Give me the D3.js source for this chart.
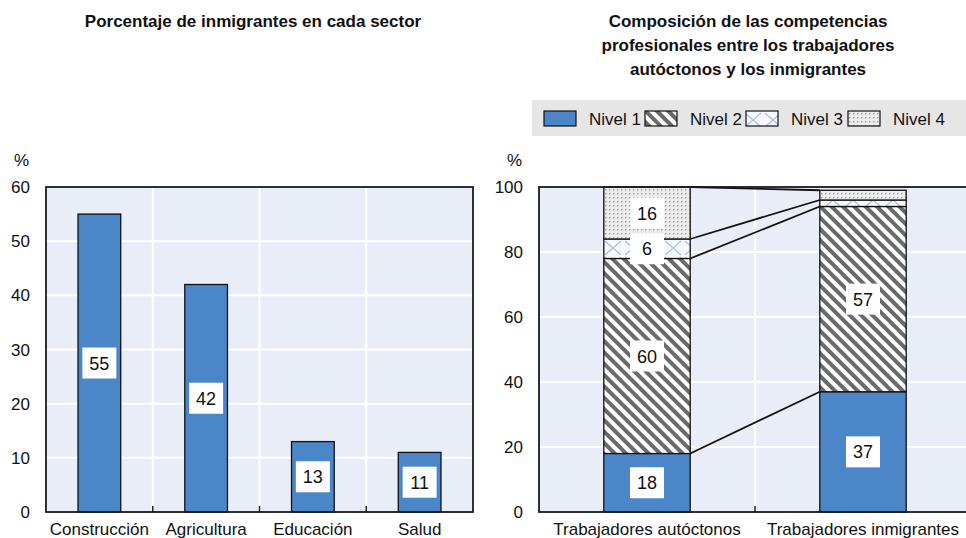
<!DOCTYPE html>
<html>
<head>
<meta charset="utf-8">
<script src="https://cdn.jsdelivr.net/npm/d3@7"></script>
<style>
  body { margin: 0; background: #fff; }
  svg text { font-family: "Liberation Sans Narrow", "Arial Narrow", "Liberation Sans", sans-serif; fill: #111; }
</style>
</head>
<body>
<div id="chart"></div>
<script>
// Left panel data
const sectors = ['Construcción', 'Agricultura', 'Educación', 'Salud'];
const sectorShares = [55, 42, 13, 11];
const leftTicks = [0, 10, 20, 30, 40, 50, 60];

// Right panel data
const groups = ['Trabajadores autóctonos', 'Trabajadores inmigrantes'];
const levels = ['Nivel 1', 'Nivel 2', 'Nivel 3', 'Nivel 4'];
const nativeLevels = [18, 60, 6, 16];
const immigrantLevels = [37, 57, 2, 3];
const rightTicks = [0, 20, 40, 60, 80, 100];

const width = 966;
const height = 538;
const plotTop = 187;
const plotBottom = 512;
const bg = '#e9edf7';
const blue = '#4a86c8';

const svg = d3.select('#chart')
  .append('svg')
  .attr('width', width)
  .attr('height', height);

// Patterns for the skill levels
const defs = svg.append('defs');

const stripes = defs.append('pattern')
  .attr('id', 'p-stripes')
  .attr('patternUnits', 'userSpaceOnUse')
  .attr('width', 8)
  .attr('height', 8)
  .attr('patternTransform', 'rotate(-45)');
stripes.append('rect').attr('width', 8).attr('height', 8).attr('fill', '#fff');
stripes.append('rect').attr('x', 0).attr('width', 4).attr('height', 8).attr('fill', '#6a6a6a');

const cross = defs.append('pattern')
  .attr('id', 'p-cross')
  .attr('patternUnits', 'userSpaceOnUse')
  .attr('width', 20)
  .attr('height', 16)
  .attr('x', 3);
cross.append('rect').attr('width', 20).attr('height', 16).attr('fill', '#f7f9fd');
cross.append('path')
  .attr('d', 'M2 1 L18 15 M18 1 L2 15')
  .attr('stroke', '#a9c1e6')
  .attr('stroke-width', 1.3);

const dots = defs.append('pattern')
  .attr('id', 'p-dots')
  .attr('patternUnits', 'userSpaceOnUse')
  .attr('width', 4)
  .attr('height', 4);
dots.append('rect').attr('width', 4).attr('height', 4).attr('fill', '#ececec');
dots.append('rect').attr('x', 1).attr('y', 1).attr('width', 1.4).attr('height', 1.4).attr('fill', '#9a9a9a');

const levelFill = d3.scaleOrdinal()
  .domain(levels)
  .range([blue, 'url(#p-stripes)', 'url(#p-cross)', 'url(#p-dots)']);

// Draws the frame, gridlines, ticks and axes of one panel
function panel(x, y, ticks, xLabelY) {
  const g = svg.append('g');
  const [x0, x1] = x.range();
  g.append('rect')
    .attr('x', x0).attr('y', plotTop)
    .attr('width', x1 - x0).attr('height', plotBottom - plotTop)
    .attr('fill', bg);
  g.selectAll('.hgrid')
    .data(ticks.slice(1, -1))
    .enter().append('line')
    .attr('x1', x0).attr('x2', x1)
    .attr('y1', d => y(d)).attr('y2', d => y(d))
    .attr('stroke', '#fff').attr('stroke-width', 2);
  const bounds = x.domain().slice(1).map(d => x(d));
  g.selectAll('.vgrid')
    .data(bounds)
    .enter().append('line')
    .attr('x1', d => d).attr('x2', d => d)
    .attr('y1', plotTop).attr('y2', plotBottom)
    .attr('stroke', '#fff').attr('stroke-width', 2);
  g.selectAll('.xtick')
    .data(bounds)
    .enter().append('line')
    .attr('x1', d => d).attr('x2', d => d)
    .attr('y1', plotBottom).attr('y2', plotBottom - 6)
    .attr('stroke', '#222').attr('stroke-width', 1.5);
  g.selectAll('.ylab')
    .data(ticks)
    .enter().append('text')
    .attr('x', x0 - 16)
    .attr('y', d => y(d) + 6)
    .attr('text-anchor', 'end')
    .style('font-size', '17px')
    .text(d => d);
  g.append('text')
    .attr('x', x0 - 32)
    .attr('y', 166)
    .attr('text-anchor', 'start')
    .style('font-size', '17px')
    .text('%');
  g.selectAll('.xlab')
    .data(x.domain())
    .enter().append('text')
    .attr('x', d => x(d) + x.bandwidth() / 2)
    .attr('y', xLabelY)
    .attr('text-anchor', 'middle')
    .style('font-size', '17px')
    .text(d => d);
  return g;
}

function frame(x) {
  const [x0, x1] = x.range();
  svg.append('rect')
    .attr('x', x0).attr('y', plotTop)
    .attr('width', x1 - x0).attr('height', plotBottom - plotTop)
    .attr('fill', 'none')
    .attr('stroke', '#1a1a1a')
    .attr('stroke-width', 1.8);
}

function valueLabel(g, cx, cy, v) {
  g.append('rect')
    .attr('x', cx - 17).attr('y', cy - 15.5)
    .attr('width', 34).attr('height', 31)
    .attr('fill', '#fff');
  g.append('text')
    .attr('x', cx).attr('y', cy + 6.5)
    .attr('text-anchor', 'middle')
    .style('font-size', '18px')
    .text(v);
}

// ---- Left panel ----
const xL = d3.scaleBand().domain(sectors).range([46, 473]);
const yL = d3.scaleLinear().domain([0, 60]).range([plotBottom, plotTop]);
const left = panel(xL, yL, leftTicks, 535);
const barW = xL.bandwidth() * 0.4;

sectors.forEach((s, i) => {
  const cx = xL(s) + xL.bandwidth() / 2;
  left.append('rect')
    .attr('x', cx - barW / 2)
    .attr('y', yL(sectorShares[i]))
    .attr('width', barW)
    .attr('height', yL(0) - yL(sectorShares[i]))
    .attr('fill', blue)
    .attr('stroke', '#111')
    .attr('stroke-width', 1.3);
  valueLabel(left, cx, yL(sectorShares[i] / 2), sectorShares[i]);
});
frame(xL);

svg.append('text')
  .attr('x', 253).attr('y', 27)
  .attr('text-anchor', 'middle')
  .style('font-size', '17px')
  .style('font-weight', 'bold')
  .text('Porcentaje de inmigrantes en cada sector');

// ---- Right panel ----
const xR = d3.scaleBand().domain(groups).range([539, 971]);
const yR = d3.scaleLinear().domain([0, 100]).range([plotBottom, plotTop]);
const right = panel(xR, yR, rightTicks, 535);
const barWR = xR.bandwidth() * 0.4;

const stackRows = levels.map((l, i) => ({level: l, native: nativeLevels[i], immigrant: immigrantLevels[i]}));
const cum = {
  native: d3.cumsum(nativeLevels),
  immigrant: d3.cumsum(immigrantLevels)
};

// Connector lines between the stacked bars
const nRight = xR(groups[0]) + xR.bandwidth() / 2 + barWR / 2;
const iLeft = xR(groups[1]) + xR.bandwidth() / 2 - barWR / 2;
right.selectAll('.conn')
  .data(levels)
  .enter().append('line')
  .attr('x1', nRight)
  .attr('x2', iLeft)
  .attr('y1', (d, i) => yR(cum.native[i]))
  .attr('y2', (d, i) => yR(cum.immigrant[i]))
  .attr('stroke', '#111')
  .attr('stroke-width', 1.8);

groups.forEach((g, gi) => {
  const key = gi ? 'immigrant' : 'native';
  const cx = xR(g) + xR.bandwidth() / 2;
  stackRows.forEach((row, i) => {
    const y1 = cum[key][i];
    const y0 = y1 - row[key];
    right.append('rect')
      .attr('x', cx - barWR / 2)
      .attr('y', yR(y1))
      .attr('width', barWR)
      .attr('height', yR(y0) - yR(y1))
      .attr('fill', levelFill(row.level))
      .attr('stroke', '#111')
      .attr('stroke-width', 1.3);
  });
  stackRows.forEach((row, i) => {
    if (row[key] < 5) return;
    const mid = cum[key][i] - row[key] / 2;
    valueLabel(right, cx, yR(mid), row[key]);
  });
});
frame(xR);

// Title
['Composición de las competencias',
 'profesionales entre los trabajadores',
 'autóctonos y los inmigrantes'].forEach((t, i) => {
  svg.append('text')
    .attr('x', 748).attr('y', 27 + i * 24)
    .attr('text-anchor', 'middle')
    .style('font-size', '17px')
    .style('font-weight', 'bold')
    .text(t);
});

// Legend
const legend = svg.append('g');
legend.append('rect')
  .attr('x', 532).attr('y', 100)
  .attr('width', 440).attr('height', 36)
  .attr('fill', '#e6e6e6');
const legendX = [544, 645, 746, 848];
levels.forEach((l, i) => {
  legend.append('rect')
    .attr('x', legendX[i]).attr('y', 111)
    .attr('width', 32).attr('height', 15)
    .attr('fill', levelFill(l))
    .attr('stroke', '#111')
    .attr('stroke-width', 1.2);
  legend.append('text')
    .attr('x', legendX[i] + 45).attr('y', 125)
    .style('font-size', '17px')
    .text(l);
});
</script>
</body>
</html>
